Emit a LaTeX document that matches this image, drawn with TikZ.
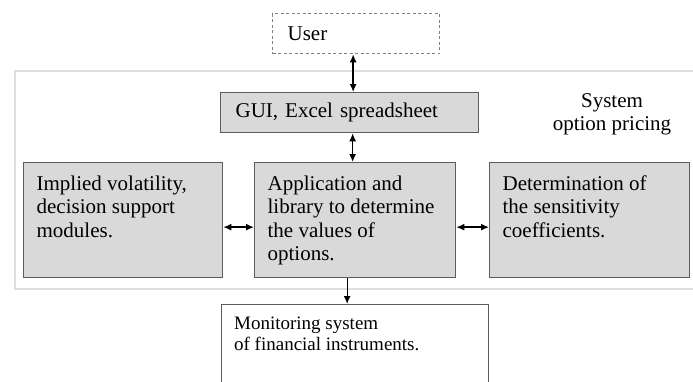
\documentclass[tikz,border=0pt]{standalone}
\usepackage{fontspec}
\setmainfont{Liberation Serif}
\usepackage{xcolor}
\usetikzlibrary{arrows.meta}

\definecolor{boxfill}{HTML}{D9D9D9}
\definecolor{boxline}{HTML}{5C5C5C}
\definecolor{frameline}{HTML}{DEDEDE}

\newcommand{\topbox}[3]{\parbox[c][#2][t]{#1}{\raggedright #3}}

\tikzset{
  module/.style={draw=boxline, fill=boxfill, line width=1.3pt, anchor=north west,
    inner sep=13pt, font=\fontsize{21}{23.5}\selectfont},
  bar/.style={draw=boxline, fill=boxfill, line width=1.3pt, anchor=north west,
    inner xsep=15pt, inner ysep=2pt, align=left, font=\fontsize{21}{23.5}\selectfont},
  link/.style={line width=1.4pt, {Latex[length=8pt,width=7pt]}-{Latex[length=8pt,width=7pt]}},
  feed/.style={line width=1.2pt, -{Latex[length=8pt,width=7pt]}}
}

\begin{document}
\begin{tikzpicture}[x=1pt, y=-1pt]
\clip (0,0) rectangle (693,381);

% system frame
\node[draw=frameline, line width=2pt, anchor=north west, minimum width=700, minimum height=218] (system) at (14,70) {};
\node[font=\fontsize{21}{23}\selectfont, align=center] (pricing) at (612,114) {System\\option pricing};

\node[bar, draw=gray, fill=white, dash pattern=on 3pt off 2.5pt, text width=137, minimum height=40] (user) at (272,13) {User};
\node[bar, text width=228, minimum height=40] (gui) at (220,92) {GUI, Excel spreadsheet};

\node[module] (vol) at (23,162) {\topbox{173pt}{89pt}{Implied volatility,\\decision support\\modules.}};
\node[module] (app) at (254,162) {\topbox{175pt}{89pt}{Application and\\library to determine\\the values of\\options.}};
\node[module] (sens) at (489,162) {\topbox{174pt}{89pt}{Determination of\\the sensitivity\\coefficients.}};

\node[draw=boxline, line width=1.3pt, anchor=north west, inner sep=12.5pt, font=\fontsize{19}{21}\selectfont] (mon) at (221,304)
  {\topbox{242pt}{80pt}{Monitoring system\\of financial instruments.}};

\draw[link] ([xshift=-3]user.south) -- ([xshift=-3]user.south |- gui.north);
\draw[link] ([xshift=3]gui.south) -- ([xshift=3]gui.south |- app.north);
\draw[link] ([yshift=-7]vol.east) -- ([yshift=-7]vol.east -| app.west);
\draw[link] ([yshift=-7]app.east) -- ([yshift=-7]app.east -| sens.west);
\draw[feed] ([xshift=-8]app.south) -- ([xshift=-8]app.south |- mon.north);

\end{tikzpicture}
\end{document}
